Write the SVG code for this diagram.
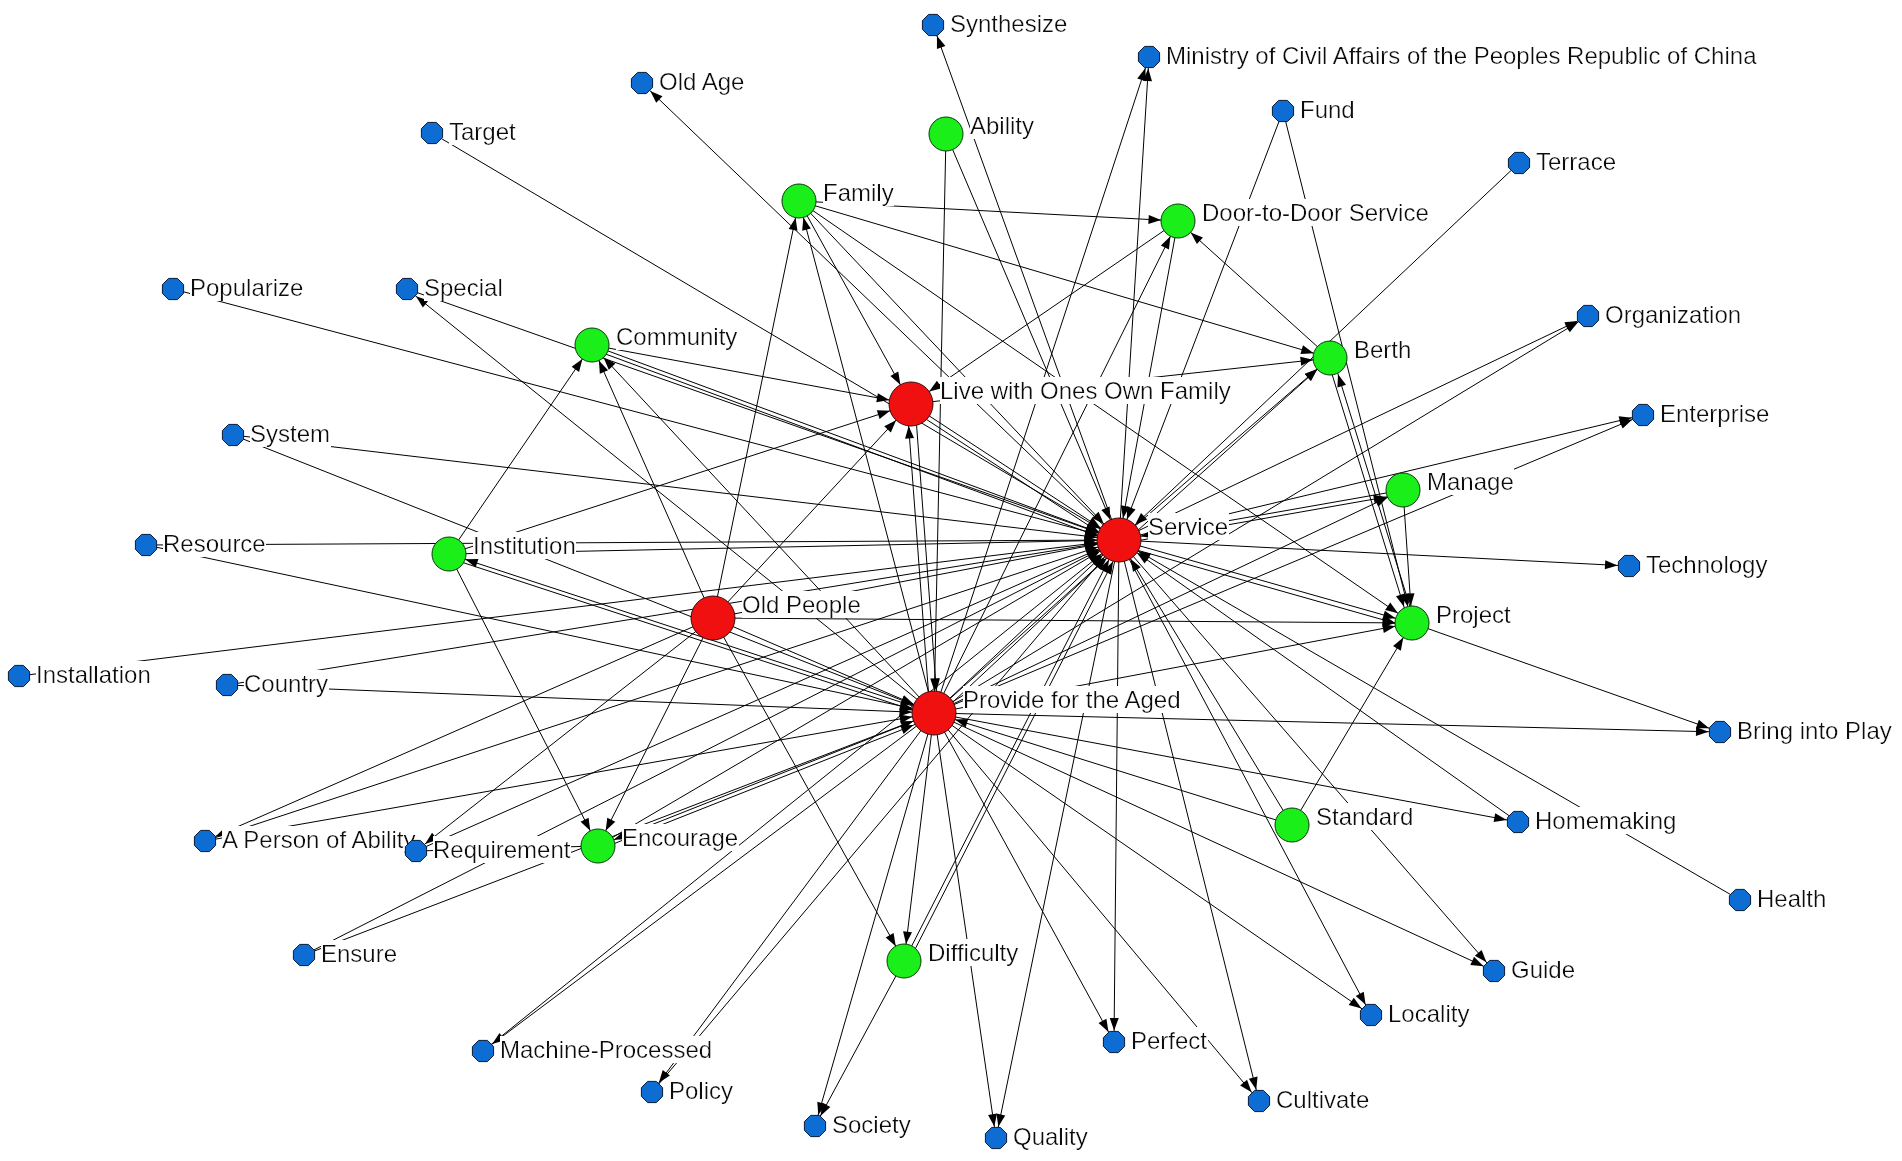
<svg xmlns="http://www.w3.org/2000/svg" xmlns:xlink="http://www.w3.org/1999/xlink" width="1902" height="1161" viewBox="0 0 1902 1161">
<style>
.e line{stroke:#000;stroke-width:1;fill:none}
.b{marker-end:url(#aB)}
.g{marker-end:url(#aG)}
.r{marker-end:url(#aR)}
.lb{font-family:"Liberation Sans",Arial,sans-serif;font-size:24px;fill:#111}
.bl{fill:#0d6dd3;stroke:#0a1a3a;stroke-width:1}
.gr{fill:#1aef1a;stroke:#0a3a0a;stroke-width:1}
.rd{fill:#f01010;stroke:#3a0a0a;stroke-width:1}
</style>
<defs>
<marker id="aB" markerUnits="userSpaceOnUse" markerWidth="30" markerHeight="12" refX="0" refY="0" orient="auto" overflow="visible"><path d="M-24,-4.5 L-11.5,0 L-24,4.5 z" fill="#000"/></marker>
<marker id="aG" markerUnits="userSpaceOnUse" markerWidth="30" markerHeight="12" refX="0" refY="0" orient="auto" overflow="visible"><path d="M-29.5,-4.5 L-17,0 L-29.5,4.5 z" fill="#000"/></marker>
<marker id="aR" markerUnits="userSpaceOnUse" markerWidth="30" markerHeight="12" refX="0" refY="0" orient="auto" overflow="visible"><path d="M-34.5,-4.5 L-22,0 L-34.5,4.5 z" fill="#000"/></marker>
<polygon id="oct" points="10.6,4.4 4.4,10.6 -4.4,10.6 -10.6,4.4 -10.6,-4.4 -4.4,-10.6 4.4,-10.6 10.6,-4.4"/>
<filter id="bg" x="0" y="0" width="1" height="1"><feFlood flood-color="#fff"/><feComposite in="SourceGraphic"/></filter>
</defs>
<rect width="1902" height="1161" fill="#fff"/>
<g id="connectors" class="e">
<line x1="432" y1="133" x2="1119" y2="540" class="r"/>
<line x1="1283" y1="111" x2="1119" y2="540" class="r"/>
<line x1="1519" y1="163" x2="1119" y2="540" class="r"/>
<line x1="1518" y1="822" x2="1119" y2="540" class="r"/>
<line x1="1740" y1="900" x2="1119" y2="540" class="r"/>
<line x1="483" y1="1051" x2="1119" y2="540" class="r"/>
<line x1="652" y1="1092" x2="1119" y2="540" class="r"/>
<line x1="205" y1="841" x2="1119" y2="540" class="r"/>
<line x1="304" y1="955" x2="1119" y2="540" class="r"/>
<line x1="416" y1="851" x2="1119" y2="540" class="r"/>
<line x1="19" y1="676" x2="1119" y2="540" class="r"/>
<line x1="227" y1="685" x2="1119" y2="540" class="r"/>
<line x1="146" y1="545" x2="1119" y2="540" class="r"/>
<line x1="233" y1="435" x2="1119" y2="540" class="r"/>
<line x1="173" y1="289" x2="1119" y2="540" class="r"/>
<line x1="407" y1="289" x2="1119" y2="540" class="r"/>
<line x1="946" y1="134" x2="1119" y2="540" class="r"/>
<line x1="799" y1="201" x2="1119" y2="540" class="r"/>
<line x1="1178" y1="221" x2="1119" y2="540" class="r"/>
<line x1="592" y1="345" x2="1119" y2="540" class="r"/>
<line x1="592" y1="349" x2="1119" y2="544" class="r"/>
<line x1="449" y1="554" x2="1119" y2="540" class="r"/>
<line x1="713" y1="618" x2="1119" y2="540" class="r"/>
<line x1="911" y1="404" x2="1119" y2="540" class="r"/>
<line x1="909" y1="408" x2="1117" y2="544" class="r"/>
<line x1="934" y1="713" x2="1119" y2="540" class="r"/>
<line x1="938" y1="716" x2="1123" y2="543" class="r"/>
<line x1="1403" y1="490" x2="1119" y2="540" class="r"/>
<line x1="1292" y1="825" x2="1119" y2="540" class="r"/>
<line x1="904" y1="961" x2="1119" y2="540" class="r"/>
<line x1="908" y1="963" x2="1123" y2="542" class="r"/>
<line x1="598" y1="846" x2="1119" y2="540" class="r"/>
<line x1="1119" y1="540" x2="933" y2="25" class="b"/>
<line x1="1119" y1="540" x2="642" y2="83" class="b"/>
<line x1="1119" y1="540" x2="1149" y2="57" class="b"/>
<line x1="1119" y1="540" x2="1588" y2="316" class="b"/>
<line x1="1119" y1="540" x2="1643" y2="415" class="b"/>
<line x1="1119" y1="540" x2="1629" y2="566" class="b"/>
<line x1="1119" y1="540" x2="1494" y2="971" class="b"/>
<line x1="1119" y1="540" x2="1371" y2="1015" class="b"/>
<line x1="1119" y1="540" x2="1259" y2="1101" class="b"/>
<line x1="1119" y1="540" x2="1114" y2="1042" class="b"/>
<line x1="1119" y1="540" x2="996" y2="1138" class="b"/>
<line x1="1119" y1="540" x2="1330" y2="358" class="g"/>
<line x1="1119" y1="544" x2="1403" y2="494" class="g"/>
<line x1="1119" y1="540" x2="1412" y2="623" class="g"/>
<line x1="1119" y1="545" x2="1412" y2="628" class="g"/>
<line x1="934" y1="713" x2="1149" y2="57" class="b"/>
<line x1="934" y1="713" x2="1588" y2="316" class="b"/>
<line x1="934" y1="713" x2="1643" y2="415" class="b"/>
<line x1="934" y1="713" x2="1720" y2="732" class="b"/>
<line x1="934" y1="713" x2="1518" y2="822" class="b"/>
<line x1="934" y1="713" x2="1494" y2="971" class="b"/>
<line x1="934" y1="713" x2="1371" y2="1015" class="b"/>
<line x1="934" y1="713" x2="1259" y2="1101" class="b"/>
<line x1="934" y1="713" x2="1114" y2="1042" class="b"/>
<line x1="934" y1="713" x2="996" y2="1138" class="b"/>
<line x1="934" y1="713" x2="815" y2="1126" class="b"/>
<line x1="934" y1="713" x2="483" y2="1051" class="b"/>
<line x1="934" y1="713" x2="652" y2="1092" class="b"/>
<line x1="934" y1="713" x2="407" y2="289" class="b"/>
<line x1="934" y1="713" x2="799" y2="201" class="g"/>
<line x1="934" y1="713" x2="1178" y2="221" class="g"/>
<line x1="934" y1="713" x2="1330" y2="358" class="g"/>
<line x1="934" y1="713" x2="592" y2="345" class="g"/>
<line x1="934" y1="713" x2="449" y2="554" class="g"/>
<line x1="930" y1="713" x2="907" y2="404" class="r"/>
<line x1="934" y1="713" x2="1403" y2="490" class="g"/>
<line x1="934" y1="713" x2="1412" y2="623" class="g"/>
<line x1="934" y1="713" x2="904" y2="961" class="g"/>
<line x1="934" y1="713" x2="598" y2="846" class="g"/>
<line x1="205" y1="841" x2="934" y2="713" class="r"/>
<line x1="304" y1="955" x2="934" y2="713" class="r"/>
<line x1="227" y1="685" x2="934" y2="713" class="r"/>
<line x1="146" y1="545" x2="934" y2="713" class="r"/>
<line x1="233" y1="435" x2="934" y2="713" class="r"/>
<line x1="946" y1="134" x2="934" y2="713" class="r"/>
<line x1="449" y1="558" x2="934" y2="717" class="r"/>
<line x1="713" y1="618" x2="934" y2="713" class="r"/>
<line x1="915" y1="404" x2="938" y2="713" class="r"/>
<line x1="1292" y1="825" x2="934" y2="713" class="r"/>
<line x1="598" y1="850" x2="934" y2="717" class="r"/>
<line x1="713" y1="618" x2="799" y2="201" class="g"/>
<line x1="713" y1="618" x2="592" y2="345" class="g"/>
<line x1="713" y1="618" x2="911" y2="404" class="r"/>
<line x1="713" y1="618" x2="1412" y2="623" class="g"/>
<line x1="713" y1="618" x2="598" y2="846" class="g"/>
<line x1="713" y1="618" x2="904" y2="961" class="g"/>
<line x1="713" y1="618" x2="416" y2="851" class="b"/>
<line x1="713" y1="618" x2="205" y2="841" class="b"/>
<line x1="1283" y1="111" x2="1412" y2="623" class="g"/>
<line x1="1412" y1="623" x2="1720" y2="732" class="b"/>
<line x1="904" y1="961" x2="815" y2="1126" class="b"/>
<line x1="416" y1="851" x2="598" y2="846"/>
<line x1="799" y1="201" x2="1178" y2="221" class="g"/>
<line x1="799" y1="201" x2="1330" y2="358" class="g"/>
<line x1="799" y1="201" x2="911" y2="404" class="r"/>
<line x1="799" y1="201" x2="1412" y2="623" class="g"/>
<line x1="1330" y1="358" x2="1178" y2="221" class="g"/>
<line x1="1178" y1="221" x2="911" y2="404" class="r"/>
<line x1="1327" y1="358" x2="1409" y2="623" class="g"/>
<line x1="1415" y1="623" x2="1333" y2="358" class="g"/>
<line x1="911" y1="404" x2="1330" y2="358" class="g"/>
<line x1="449" y1="554" x2="592" y2="345" class="g"/>
<line x1="592" y1="345" x2="911" y2="404" class="r"/>
<line x1="449" y1="554" x2="911" y2="404" class="r"/>
<line x1="449" y1="554" x2="598" y2="846" class="g"/>
<line x1="1403" y1="490" x2="1412" y2="623" class="g"/>
<line x1="1292" y1="825" x2="1412" y2="623" class="g"/>
</g>
<g id="n-synthesize"><use href="#oct" x="933" y="25" class="bl"/><text x="950" y="32" class="lb" filter="url(#bg)">Synthesize</text></g>
<g id="n-ministry"><use href="#oct" x="1149" y="57" class="bl"/><text x="1166" y="64" class="lb" filter="url(#bg)">Ministry of Civil Affairs of the Peoples Republic of China</text></g>
<g id="n-old-age"><use href="#oct" x="642" y="83" class="bl"/><text x="659" y="90" class="lb" filter="url(#bg)">Old Age</text></g>
<g id="n-fund"><use href="#oct" x="1283" y="111" class="bl"/><text x="1300" y="118" class="lb" filter="url(#bg)">Fund</text></g>
<g id="n-target"><use href="#oct" x="432" y="133" class="bl"/><text x="449" y="140" class="lb" filter="url(#bg)">Target</text></g>
<g id="n-terrace"><use href="#oct" x="1519" y="163" class="bl"/><text x="1536" y="170" class="lb" filter="url(#bg)">Terrace</text></g>
<g id="n-popularize"><use href="#oct" x="173" y="289" class="bl"/><text x="190" y="296" class="lb" filter="url(#bg)">Popularize</text></g>
<g id="n-special"><use href="#oct" x="407" y="289" class="bl"/><text x="424" y="296" class="lb" filter="url(#bg)">Special</text></g>
<g id="n-organization"><use href="#oct" x="1588" y="316" class="bl"/><text x="1605" y="323" class="lb" filter="url(#bg)">Organization</text></g>
<g id="n-enterprise"><use href="#oct" x="1643" y="415" class="bl"/><text x="1660" y="422" class="lb" filter="url(#bg)">Enterprise</text></g>
<g id="n-system"><use href="#oct" x="233" y="435" class="bl"/><text x="250" y="442" class="lb" filter="url(#bg)">System</text></g>
<g id="n-resource"><use href="#oct" x="146" y="545" class="bl"/><text x="163" y="552" class="lb" filter="url(#bg)">Resource</text></g>
<g id="n-technology"><use href="#oct" x="1629" y="566" class="bl"/><text x="1646" y="573" class="lb" filter="url(#bg)">Technology</text></g>
<g id="n-installation"><use href="#oct" x="19" y="676" class="bl"/><text x="36" y="683" class="lb" filter="url(#bg)">Installation</text></g>
<g id="n-country"><use href="#oct" x="227" y="685" class="bl"/><text x="244" y="692" class="lb" filter="url(#bg)">Country</text></g>
<g id="n-bring-into-play"><use href="#oct" x="1720" y="732" class="bl"/><text x="1737" y="739" class="lb" filter="url(#bg)">Bring into Play</text></g>
<g id="n-person-of-ability"><use href="#oct" x="205" y="841" class="bl"/><text x="222" y="848" class="lb" filter="url(#bg)">A Person of Ability</text></g>
<g id="n-requirement"><use href="#oct" x="416" y="851" class="bl"/><text x="433" y="858" class="lb" filter="url(#bg)">Requirement</text></g>
<g id="n-homemaking"><use href="#oct" x="1518" y="822" class="bl"/><text x="1535" y="829" class="lb" filter="url(#bg)">Homemaking</text></g>
<g id="n-health"><use href="#oct" x="1740" y="900" class="bl"/><text x="1757" y="907" class="lb" filter="url(#bg)">Health</text></g>
<g id="n-ensure"><use href="#oct" x="304" y="955" class="bl"/><text x="321" y="962" class="lb" filter="url(#bg)">Ensure</text></g>
<g id="n-guide"><use href="#oct" x="1494" y="971" class="bl"/><text x="1511" y="978" class="lb" filter="url(#bg)">Guide</text></g>
<g id="n-locality"><use href="#oct" x="1371" y="1015" class="bl"/><text x="1388" y="1022" class="lb" filter="url(#bg)">Locality</text></g>
<g id="n-perfect"><use href="#oct" x="1114" y="1042" class="bl"/><text x="1131" y="1049" class="lb" filter="url(#bg)">Perfect</text></g>
<g id="n-machine-processed"><use href="#oct" x="483" y="1051" class="bl"/><text x="500" y="1058" class="lb" filter="url(#bg)">Machine-Processed</text></g>
<g id="n-policy"><use href="#oct" x="652" y="1092" class="bl"/><text x="669" y="1099" class="lb" filter="url(#bg)">Policy</text></g>
<g id="n-cultivate"><use href="#oct" x="1259" y="1101" class="bl"/><text x="1276" y="1108" class="lb" filter="url(#bg)">Cultivate</text></g>
<g id="n-society"><use href="#oct" x="815" y="1126" class="bl"/><text x="832" y="1133" class="lb" filter="url(#bg)">Society</text></g>
<g id="n-quality"><use href="#oct" x="996" y="1138" class="bl"/><text x="1013" y="1145" class="lb" filter="url(#bg)">Quality</text></g>
<g id="n-ability"><circle cx="946" cy="134" r="17" class="gr"/><text x="970" y="134" class="lb" filter="url(#bg)">Ability</text></g>
<g id="n-family"><circle cx="799" cy="201" r="17" class="gr"/><text x="823" y="201" class="lb" filter="url(#bg)">Family</text></g>
<g id="n-door-to-door"><circle cx="1178" cy="221" r="17" class="gr"/><text x="1202" y="221" class="lb" filter="url(#bg)">Door-to-Door Service</text></g>
<g id="n-community"><circle cx="592" cy="345" r="17" class="gr"/><text x="616" y="345" class="lb" filter="url(#bg)">Community</text></g>
<g id="n-berth"><circle cx="1330" cy="358" r="17" class="gr"/><text x="1354" y="358" class="lb" filter="url(#bg)">Berth</text></g>
<g id="n-manage"><circle cx="1403" cy="490" r="17" class="gr"/><text x="1427" y="490" class="lb" filter="url(#bg)">Manage</text></g>
<g id="n-institution"><circle cx="449" cy="554" r="17" class="gr"/><text x="473" y="554" class="lb" filter="url(#bg)">Institution</text></g>
<g id="n-project"><circle cx="1412" cy="623" r="17" class="gr"/><text x="1436" y="623" class="lb" filter="url(#bg)">Project</text></g>
<g id="n-encourage"><circle cx="598" cy="846" r="17" class="gr"/><text x="622" y="846" class="lb" filter="url(#bg)">Encourage</text></g>
<g id="n-standard"><circle cx="1292" cy="825" r="17" class="gr"/><text x="1316" y="825" class="lb" filter="url(#bg)">Standard</text></g>
<g id="n-difficulty"><circle cx="904" cy="961" r="17" class="gr"/><text x="928" y="961" class="lb" filter="url(#bg)">Difficulty</text></g>
<g id="n-live"><circle cx="911" cy="404" r="22" class="rd"/><text x="940" y="399" class="lb" filter="url(#bg)">Live with Ones Own Family</text></g>
<g id="n-service"><circle cx="1119" cy="540" r="22" class="rd"/><text x="1148" y="535" class="lb" filter="url(#bg)">Service</text></g>
<g id="n-old-people"><circle cx="713" cy="618" r="22" class="rd"/><text x="742" y="613" class="lb" filter="url(#bg)">Old People</text></g>
<g id="n-provide"><circle cx="934" cy="713" r="22" class="rd"/><text x="963" y="708" class="lb" filter="url(#bg)">Provide for the Aged</text></g>
</svg>
